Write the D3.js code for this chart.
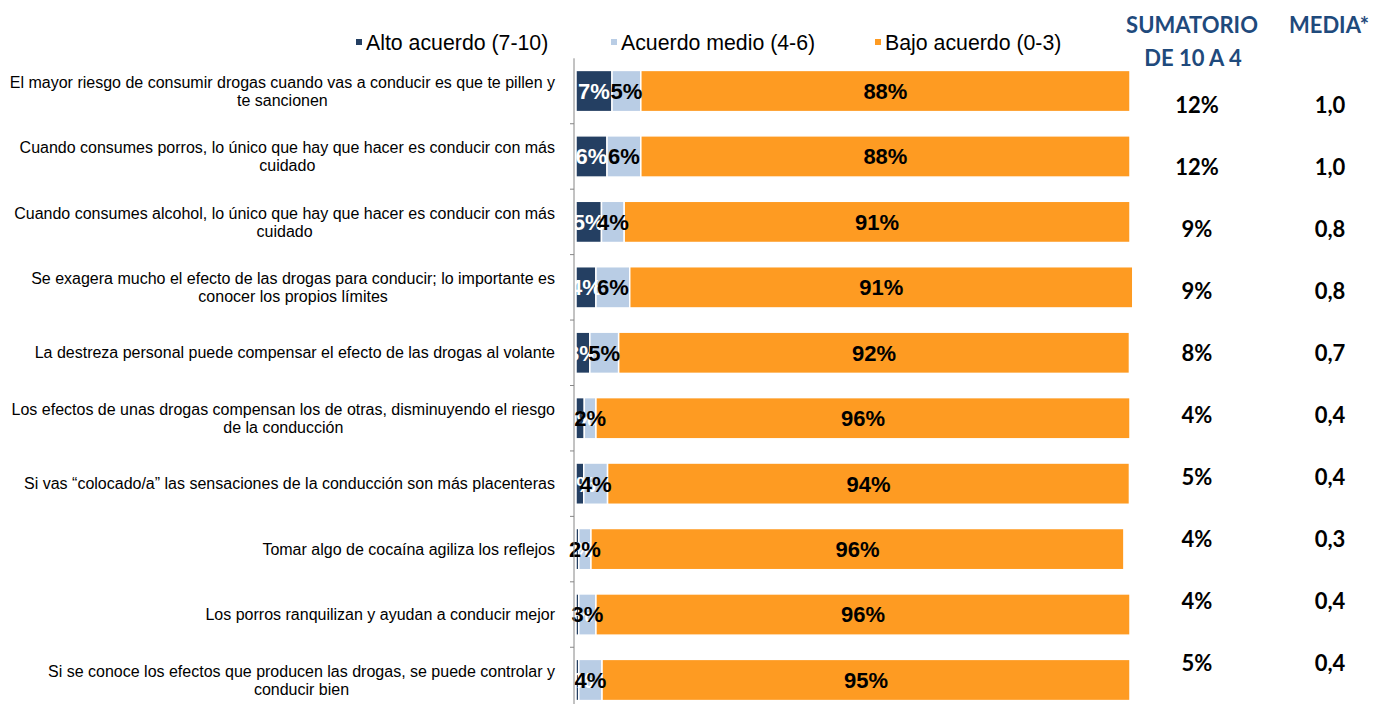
<!DOCTYPE html>
<html>
<head>
<meta charset="utf-8">
<script src="https://cdn.jsdelivr.net/npm/d3@7"></script>
<style>
  body { margin: 0; background: #fff; }
</style>
</head>
<body>
<div id="my_dataviz"></div>
<script>
// categories (each entry is the lines of the wrapped label)
var categories = [
  ["El mayor riesgo de consumir drogas cuando vas a conducir es que te pillen y", "te sancionen"],
  ["Cuando consumes porros, lo único que hay que hacer es conducir con más", "cuidado"],
  ["Cuando consumes alcohol, lo único que hay que hacer es conducir con más", "cuidado"],
  ["Se exagera mucho el efecto de las drogas para conducir; lo importante es", "conocer los propios límites"],
  ["La destreza personal puede compensar el efecto de las drogas al volante"],
  ["Los efectos de unas drogas compensan los de otras, disminuyendo el riesgo", "de la conducción"],
  ["Si vas \u201ccolocado/a\u201d las sensaciones de la conducción son más placenteras"],
  ["Tomar algo de cocaína agiliza los reflejos"],
  ["Los porros ranquilizan y ayudan a conducir mejor"],
  ["Si se conoce los efectos que producen las drogas, se puede controlar y", "conducir bien"]
];

// series values (%)
var alto  = [6.5, 5.6, 4.6, 3.6, 2.5, 1.5, 1.4, 0.5, 0.5, 0.5];
var medio = [5.2, 6.1, 4.1, 6.1, 5.2, 2.1, 4.3, 2.2, 3.1, 4.2];
var bajo  = [88.3, 88.3, 91.3, 90.8, 92.2, 96.4, 94.2, 96.2, 96.4, 95.3];

// side table
var sumatorio = ["12%", "12%", "9%", "9%", "8%", "4%", "5%", "4%", "4%", "5%"];
var media     = ["1,0", "1,0", "0,8", "0,8", "0,7", "0,4", "0,4", "0,3", "0,4", "0,4"];

var seriesNames = ["Alto acuerdo (7-10)", "Acuerdo medio (4-6)", "Bajo acuerdo (0-3)"];
var colors = ["#243f62", "#b9cde5", "#fe9b22"];
var labelColors = ["#fff", "#000", "#000"];

var width = 1381, height = 704;

var svg = d3.select("#my_dataviz")
  .append("svg")
    .attr("width", width)
    .attr("height", height)
    .style("font-family", "'Liberation Sans', Arial, sans-serif");

var ids = d3.range(categories.length);

// scales
var x = d3.scaleLinear()
  .domain([0, 100])
  .range([576, 1130]);

var y = d3.scaleBand()
  .domain(ids)
  .range([58.3, 712.7])
  .paddingInner(0.37)
  .paddingOuter(0.185);

var yTable = d3.scalePoint()
  .domain(ids)
  .range([105, 663]);

// build stacked rows
var rows = ids.map(function(i) {
  return {i: i, a: alto[i], m: medio[i], b: bajo[i]};
});
var stack = d3.stack().keys(["a", "m", "b"]);
var layers = stack(rows);

// bars
var g = svg.append("g");
layers.forEach(function(layer, k) {
  g.selectAll(".bar" + k)
    .data(layer)
    .enter()
    .append("rect")
      .attr("x", function(d) { return x(d[0]); })
      .attr("y", function(d) { return y(d.data.i); })
      .attr("width", function(d) { return x(d[1]) - x(d[0]); })
      .attr("height", y.bandwidth())
      .attr("fill", colors[k])
      .attr("stroke", "#fff")
      .attr("stroke-width", 1.5);
});

// value labels on segments
layers.forEach(function(layer, k) {
  g.selectAll(".lab" + k)
    .data(layer)
    .enter()
    .append("text")
      .attr("x", function(d) { return (x(d[0]) + x(d[1])) / 2; })
      .attr("y", function(d) { return y(d.data.i) + y.bandwidth() / 2; })
      .attr("dy", "0.36em")
      .attr("text-anchor", "middle")
      .style("font-size", "22px")
      .style("font-weight", "bold")
      .attr("fill", labelColors[k])
      .text(function(d) { return Math.round(d[1] - d[0]) + "%"; });
});

// vertical axis (line only), ticks at the band edges like excel
var axisX = 574;
svg.append("g")
  .attr("transform", "translate(" + axisX + ",0)")
  .call(d3.axisLeft(y).tickSize(0).tickFormat(""))
  .call(function(ax) {
    ax.select(".domain").attr("stroke", "#868686").attr("d", "M0,58.3V704");
  });

var step = y.step();
svg.append("g").selectAll("line")
  .data(ids.slice(1))
  .enter()
  .append("line")
    .attr("x1", axisX - 4)
    .attr("x2", axisX)
    .attr("y1", function(i) { return y(i) - step * y.paddingInner() / 2; })
    .attr("y2", function(i) { return y(i) - step * y.paddingInner() / 2; })
    .attr("stroke", "#868686");

// category labels: centred lines in a block that is right aligned at 555
var catG = svg.append("g");
categories.forEach(function(lines, i) {
  var t = catG.append("text")
    .attr("text-anchor", "middle")
    .style("font-size", "16px")
    .attr("fill", "#000");
  var lh = 18;
  var y0 = y(i) + y.bandwidth() / 2 - (lines.length - 1) * lh / 2;
  lines.forEach(function(line, j) {
    t.append("tspan")
      .attr("y", y0 + j * lh)
      .attr("dy", "0.35em")
      .text(line);
  });
  var maxW = 0;
  t.selectAll("tspan").each(function() {
    maxW = Math.max(maxW, this.getComputedTextLength());
  });
  t.selectAll("tspan").attr("x", 555 - maxW / 2);
});

// legend
var legendX = [356, 611, 875];
var legend = svg.append("g");
seriesNames.forEach(function(name, k) {
  legend.append("rect")
    .attr("x", legendX[k])
    .attr("y", 39)
    .attr("width", 6)
    .attr("height", 6)
    .attr("fill", colors[k]);
  legend.append("text")
    .attr("x", legendX[k] + 10)
    .attr("y", 42)
    .attr("dy", "0.36em")
    .style("font-size", "21.3px")
    .attr("fill", "#000")
    .text(name);
});

// side table headers
var headColor = "#1f4a7c";
var table = svg.append("g")
  .style("font-family", "Lato, 'Open Sans', sans-serif")
  .style("font-weight", "bold")
  .style("font-size", "22px");

table.append("text").attr("x", 1192).attr("y", 25).attr("dy", "0.36em")
  .attr("text-anchor", "middle").attr("fill", headColor).text("SUMATORIO");
table.append("text").attr("x", 1193).attr("y", 58).attr("dy", "0.36em")
  .attr("text-anchor", "middle").attr("fill", headColor).text("DE 10 A 4");
table.append("text").attr("x", 1329).attr("y", 25).attr("dy", "0.36em")
  .attr("text-anchor", "middle").attr("fill", headColor).text("MEDIA*");

// side table values
table.selectAll(".sum")
  .data(ids)
  .enter()
  .append("text")
    .attr("x", 1197)
    .attr("y", function(i) { return yTable(i); })
    .attr("dy", "0.36em")
    .attr("text-anchor", "middle")
    .attr("fill", "#000")
    .text(function(i) { return sumatorio[i]; });

table.selectAll(".med")
  .data(ids)
  .enter()
  .append("text")
    .attr("x", 1330)
    .attr("y", function(i) { return yTable(i); })
    .attr("dy", "0.36em")
    .attr("text-anchor", "middle")
    .attr("fill", "#000")
    .text(function(i) { return media[i]; });
</script>
</body>
</html>
